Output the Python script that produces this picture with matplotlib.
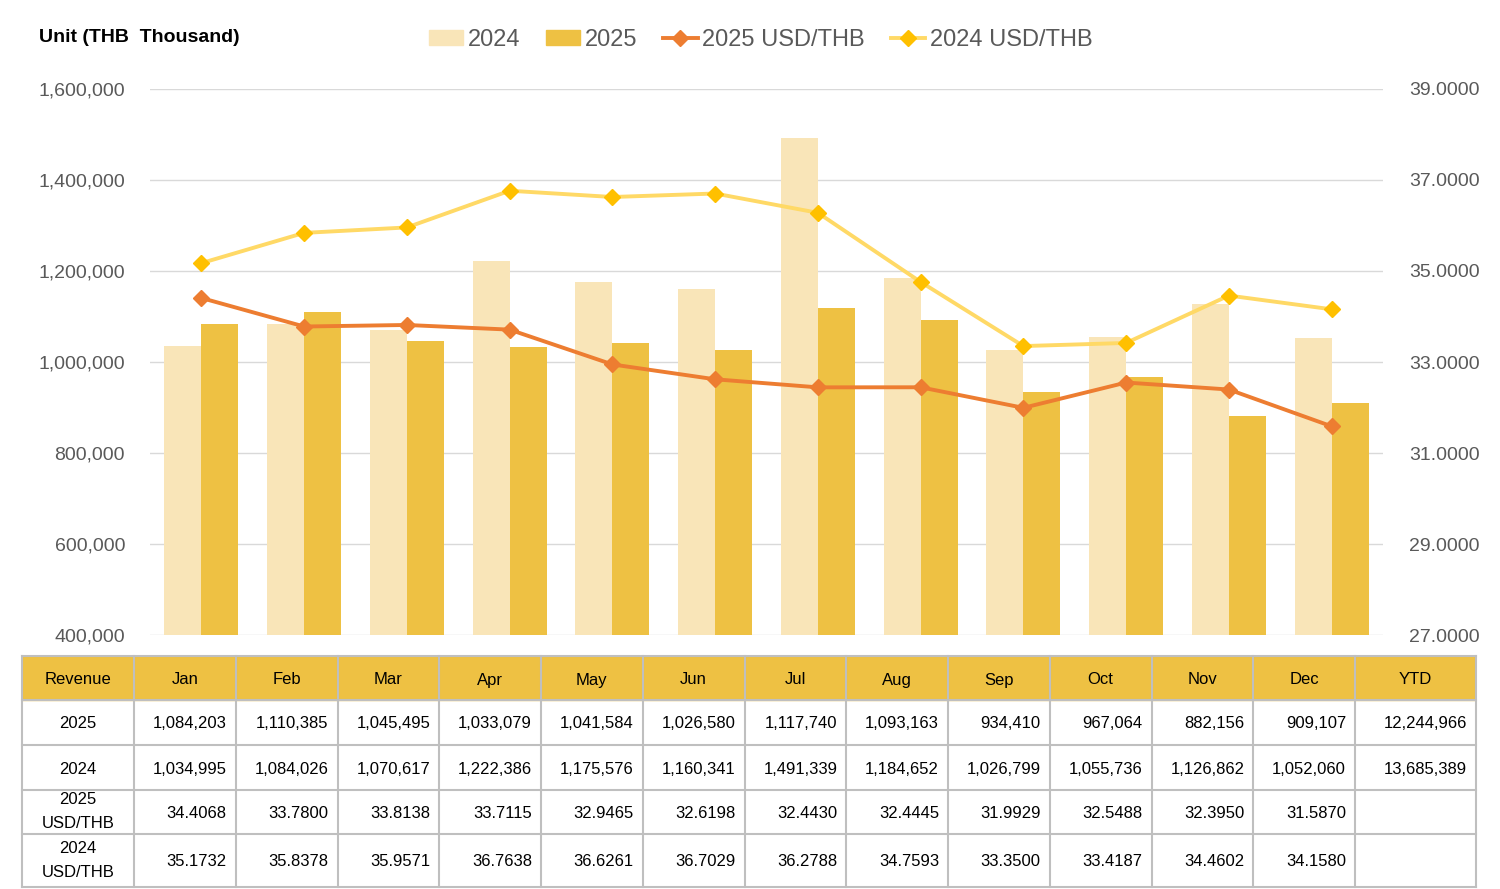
import numpy as np
import matplotlib.pyplot as plt
from matplotlib.patches import Rectangle
from matplotlib.lines import Line2D

plt.rcParams['font.family'] = ['Liberation Sans', 'DejaVu Sans']

# data
months = ['Jan', 'Feb', 'Mar', 'Apr', 'May', 'Jun', 'Jul', 'Aug', 'Sep', 'Oct', 'Nov', 'Dec']
rev_2025 = [1084203, 1110385, 1045495, 1033079, 1041584, 1026580, 1117740, 1093163, 934410, 967064, 882156, 909107]
rev_2024 = [1034995, 1084026, 1070617, 1222386, 1175576, 1160341, 1491339, 1184652, 1026799, 1055736, 1126862, 1052060]
fx_2025 = [34.4068, 33.7800, 33.8138, 33.7115, 32.9465, 32.6198, 32.4430, 32.4445, 31.9929, 32.5488, 32.3950, 31.5870]
fx_2024 = [35.1732, 35.8378, 35.9571, 36.7638, 36.6261, 36.7029, 36.2788, 34.7593, 33.3500, 33.4187, 34.4602, 34.1580]
ytd_2025 = 12244966
ytd_2024 = 13685389

c24 = '#F9E5B8'
c25 = '#EEC143'
cl25 = '#ED7D31'
cl24 = '#FFD966'
cm24 = '#FFC000'
txt_gray = '#595959'

fig = plt.figure(figsize=(15, 8.89), dpi=100)
ax = fig.add_axes([0.1, 0.2857, 0.822, 0.6142])
ax2 = ax.twinx()

x = np.arange(len(months))
w = 0.36
ax.bar(x - w / 2, rev_2024, w, color=c24, zorder=2)
ax.bar(x + w / 2, rev_2025, w, color=c25, zorder=2)
ax.set_ylim(400000, 1600000)
ax.set_yticks(np.arange(400000, 1600001, 200000))
ax.set_yticklabels([f'{v:,}' for v in range(400000, 1600001, 200000)])
ax.set_xlim(-0.5, 11.5)
ax.set_xticks([])
ax.grid(axis='y', color='#D9D9D9', linewidth=1, zorder=0)
ax.set_axisbelow(True)

ax2.plot(x, fx_2025, color=cl25, linewidth=2.8, marker='D', markersize=8,
         markerfacecolor=cl25, markeredgecolor=cl25, zorder=3)
ax2.plot(x, fx_2024, color=cl24, linewidth=2.8, marker='D', markersize=8,
         markerfacecolor=cm24, markeredgecolor=cm24, zorder=3)
ax2.set_ylim(27, 39)
ax2.set_yticks(np.arange(27, 39.1, 2))
ax2.set_yticklabels([f'{v:.4f}' for v in np.arange(27, 39.1, 2)])

for a in (ax, ax2):
    for s in a.spines.values():
        s.set_visible(False)
    a.tick_params(length=0, labelsize=14, labelcolor=txt_gray)
ax.tick_params(axis='y', pad=18)
ax2.tick_params(axis='y', pad=19)

fig.text(0.026, 1 - 38 / 889, 'Unit (THB  Thousand)', fontsize=14, fontweight='bold',
         va='center', ha='left', color='black')

handles = [Rectangle((0, 0), 1, 1, color=c24), Rectangle((0, 0), 1, 1, color=c25),
           Line2D([], [], color=cl25, linewidth=2.8, marker='D', markersize=8),
           Line2D([], [], color=cl24, linewidth=2.8, marker='D', markersize=8,
                  markerfacecolor=cm24, markeredgecolor=cm24)]
leg = fig.legend(handles, ['2024', '2025', '2025 USD/THB', '2024 USD/THB'],
                 loc='center', bbox_to_anchor=(0.507, 1 - 40 / 889), ncol=4, frameon=False,
                 fontsize=17, handlelength=1.45, handleheight=0.6, handletextpad=0.2,
                 columnspacing=1.1)
for t in leg.get_texts():
    t.set_color(txt_gray)

# table
tax = fig.add_axes([22 / 1500, 2 / 889, 1454 / 1500, 231 / 889])
col_w = [112] + [101.75] * 12 + [121]
col_e = np.concatenate([[0], np.cumsum(col_w)])
row_e = [0, 44, 89, 134, 178, 231]
tax.set_xlim(0, col_e[-1])
tax.set_ylim(row_e[-1], 0)
tax.axis('off')

header = ['Revenue'] + months + ['YTD']
rows = [
    ['2025'] + [f'{v:,}' for v in rev_2025] + [f'{ytd_2025:,}'],
    ['2024'] + [f'{v:,}' for v in rev_2024] + [f'{ytd_2024:,}'],
    ['2025\nUSD/THB'] + [f'{v:.4f}' for v in fx_2025] + [''],
    ['2024\nUSD/THB'] + [f'{v:.4f}' for v in fx_2024] + [''],
]

tax.add_patch(Rectangle((0, 0), col_e[-1], row_e[1], color=c25, zorder=1))
for j, h in enumerate(header):
    tax.text((col_e[j] + col_e[j + 1]) / 2, row_e[1] / 2 + 2, h, ha='center', va='center',
             fontsize=12, color='black', zorder=3)
for i, r in enumerate(rows):
    yc = (row_e[i + 1] + row_e[i + 2]) / 2 + 1.5
    for j, v in enumerate(r):
        if j == 0:
            yy = yc - 1.5 if '\n' in v else yc
            tax.text((col_e[0] + col_e[1]) / 2, yy, v, ha='center', va='center',
                     fontsize=12, linespacing=1.75, zorder=3)
        else:
            tax.text(col_e[j + 1] - 9, yc, v, ha='right', va='center', fontsize=12, zorder=3)

lc = '#BFBFBF'
for e in col_e:
    tax.plot([e, e], [0, row_e[-1]], color=lc, linewidth=1.5, zorder=2, clip_on=False)
for e in row_e:
    tax.plot([0, col_e[-1]], [e, e], color=lc, linewidth=1.5, zorder=2, clip_on=False)

fig.savefig('out.png', dpi=100)
